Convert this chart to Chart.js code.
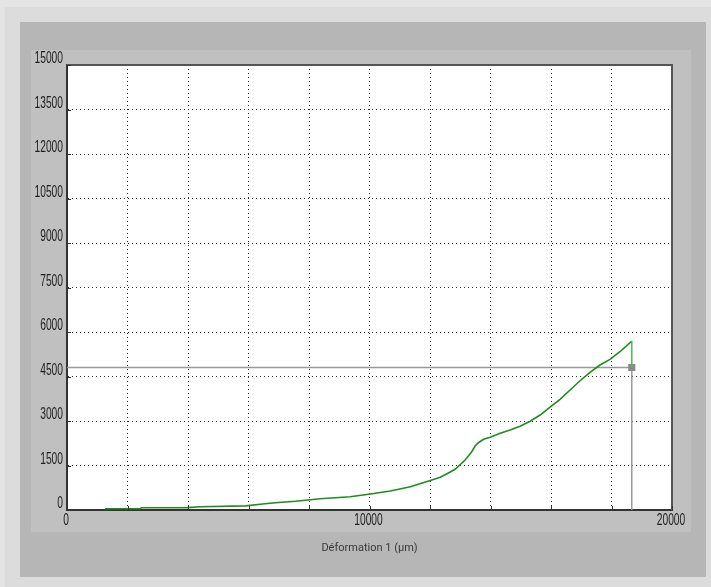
<!DOCTYPE html>
<html>
<head>
<meta charset="utf-8">
<script src="https://cdn.jsdelivr.net/npm/chart.js@4/dist/chart.umd.min.js"></script>
<style>
  html, body { margin: 0; padding: 0; }
  body { width: 711px; height: 587px; background: #e4e4e4; position: relative; overflow: hidden; }
  .panel { position: absolute; }
  #frame { left: 5px; top: 7px; right: 0; bottom: 0; background: #dcdcdc; }
  #dark { left: 20px; top: 22px; width: 686px; height: 555px; background: #b5b6b5; }
  #labels { left: 31px; top: 50px; width: 660px; height: 482px; background: #c0c0c0; }
  #chart { position: absolute; left: 0; top: 0; }
</style>
</head>
<body>
<div class="panel" id="frame"></div>
<div class="panel" id="dark"></div>
<div class="panel" id="labels"></div>
<canvas id="chart" width="711" height="587"></canvas>
<script>
// curve: deformation (µm) / force
const strain = [1250, 2430, 2460, 3980, 4410, 5900, 6390, 6890, 7550, 8370, 9360, 10030, 10690, 11350,
  12010, 12340, 12670, 12830, 13160, 13380, 13490, 13600, 13770, 13990, 14320, 14650, 14980,
  15310, 15640, 15970, 16300, 16630, 16960, 17290, 17620, 17950, 18280, 18670, 18670];
const force = [40, 45, 75, 80, 110, 140, 192, 246, 293, 377, 448, 539, 640, 785,
  994, 1102, 1281, 1372, 1685, 1965, 2157, 2268, 2383, 2450, 2585, 2696, 2821,
  2993, 3202, 3471, 3731, 4044, 4357, 4640, 4887, 5079, 5335, 5695, 4802];

// cursor position
const cursorX = 18670;
const cursorY = 4802;

const xMax = 20000, xStep = 2000;
const yMax = 15000, yStep = 1500;
const xLabelValues = [0, 10000, 20000];
const xTitle = 'Déformation 1 (µm)';

const curvePoints = strain.map((x, i) => ({ x: x, y: force[i] }));
const cursorPoints = [{ x: 0, y: cursorY }, { x: cursorX, y: cursorY }, { x: cursorX, y: 0 }];

// narrow tick labels: regular font squeezed horizontally
function drawNarrow(ctx, text, x, y, align) {
  ctx.save();
  ctx.translate(x, y);
  ctx.scale(0.64, 1);
  ctx.textAlign = align;
  ctx.textBaseline = 'middle';
  ctx.fillText(text, 0, 0);
  ctx.restore();
}

// white plot background, frame, inward tick marks, tick labels
const plotFrame = {
  id: 'plotFrame',
  beforeDraw(chart) {
    const { ctx, chartArea: a } = chart;
    ctx.save();
    ctx.fillStyle = '#ffffff';
    ctx.fillRect(a.left, a.top, a.right - a.left, a.bottom - a.top);
    ctx.restore();
  },
  afterDraw(chart) {
    const { ctx, chartArea: a, scales } = chart;
    ctx.save();
    ctx.strokeStyle = '#555';
    ctx.lineWidth = 2;
    ctx.beginPath();
    ctx.moveTo(a.left, a.top);
    ctx.lineTo(a.right, a.top);
    ctx.lineTo(a.right, a.bottom);
    ctx.stroke();
    ctx.strokeStyle = '#333';
    ctx.lineWidth = 1;
    ctx.beginPath();
    scales.x.ticks.forEach(t => {
      const px = Math.round(scales.x.getPixelForValue(t.value)) + 0.5;
      ctx.moveTo(px, a.bottom);
      ctx.lineTo(px, a.bottom - 4);
    });
    scales.y.ticks.forEach(t => {
      const py = Math.round(scales.y.getPixelForValue(t.value)) + 0.5;
      ctx.moveTo(a.left, py);
      ctx.lineTo(a.left + 4, py);
    });
    ctx.stroke();

    ctx.fillStyle = '#1e1e1e';
    ctx.font = '16px "Liberation Sans", Arial, sans-serif';
    scales.y.ticks.forEach(t => {
      const py = scales.y.getPixelForValue(t.value);
      drawNarrow(ctx, String(t.value), a.left - 4, py - 6, 'right');
    });
    xLabelValues.forEach(v => {
      const px = scales.x.getPixelForValue(v);
      drawNarrow(ctx, String(v), px - 1, a.bottom + 11, 'center');
    });
    ctx.restore();
  }
};

new Chart(document.getElementById('chart'), {
  type: 'scatter',
  data: {
    datasets: [
      {
        data: curvePoints,
        showLine: true,
        borderWidth: 1.6,
        pointRadius: 0,
        tension: 0,
        borderColor: '#1f8c1f',
        segment: {
          borderColor: c => c.p1DataIndex === strain.length - 1 ? '#5cb85c' : '#1f8c1f'
        }
      },
      {
        data: cursorPoints,
        showLine: true,
        borderColor: '#9a9a9a',
        borderWidth: 1.5,
        pointRadius: [0, 4, 0],
        pointStyle: 'rect',
        pointBackgroundColor: '#8a8a8a',
        pointBorderColor: '#8a8a8a'
      }
    ]
  },
  options: {
    responsive: false,
    animation: false,
    devicePixelRatio: 1,
    layout: { padding: { left: 0, top: 65, right: 39, bottom: 0 } },
    plugins: { legend: { display: false }, tooltip: { enabled: false } },
    scales: {
      x: {
        type: 'linear',
        min: 0,
        max: xMax,
        afterFit: s => { s.height = 77; },
        border: { display: true, color: '#333', width: 2, dash: [1, 3] },
        grid: { color: '#333', lineWidth: 1, drawTicks: false },
        ticks: { stepSize: xStep, autoSkip: false, display: false },
        title: {
          display: true,
          text: xTitle,
          color: '#3a3a3a',
          font: { family: 'Roboto, sans-serif', size: 11 },
          padding: { top: 32, bottom: 32 }
        }
      },
      y: {
        type: 'linear',
        min: 0,
        max: yMax,
        afterFit: s => { s.width = 67; },
        border: { display: true, color: '#333', width: 2, dash: [1, 3] },
        grid: { color: '#333', lineWidth: 1, drawTicks: false },
        ticks: { stepSize: yStep, display: false }
      }
    }
  },
  plugins: [plotFrame]
});
</script>
</body>
</html>
